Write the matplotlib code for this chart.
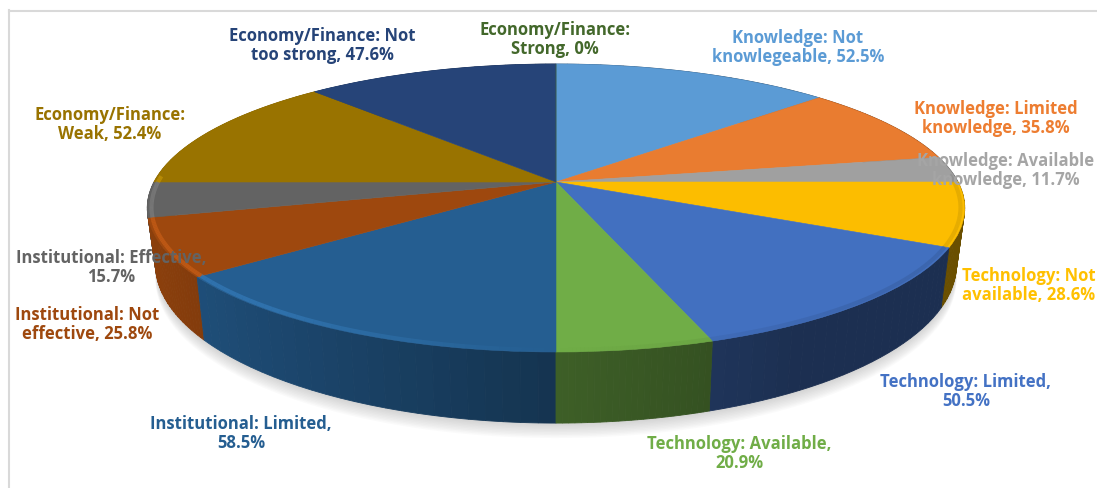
import matplotlib
matplotlib.use("Agg")
import matplotlib.pyplot as plt
import numpy as np
from matplotlib.transforms import Transform
from matplotlib.colors import to_rgb

# share of answers, each of the four groups sums to 100
values = [52.5, 35.8, 11.7, 28.6, 50.5, 20.9, 58.5, 25.8, 15.7, 52.4, 47.6, 0]
slice_colors = ["#5b9bd5", "#e97c30", "#a0a0a0", "#fcbd00", "#4270c0", "#70ad47",
                "#255e91", "#9e480e", "#636363", "#997300", "#264478", "#43682b"]
label_text = ["Knowledge: Not\nknowlegeable, 52.5%", "Knowledge: Limited\nknowledge, 35.8%",
              "Knowledge: Available\nknowledge, 11.7%", "Technology: Not\navailable, 28.6%",
              "Technology: Limited,\n50.5%", "Technology: Available,\n20.9%",
              "Institutional: Limited,\n58.5%", "Institutional: Not\neffective, 25.8%",
              "Institutional: Effective,\n15.7%", "Economy/Finance:\nWeak, 52.4%",
              "Economy/Finance: Not\ntoo strong, 47.6%", "Economy/Finance:\nStrong, 0%"]
label_colors = ["#5b9bd5", "#ed7d31", "#a5a5a5", "#ffc000", "#4472c4", "#70ad47",
                "#255e91", "#9e480e", "#636363", "#997300", "#264478", "#43682b"]
label_x = [798, 996, 1006, 1029, 966, 739, 241, 87, 111, 110, 322, 555]
label_y = [47.5, 118.5, 170.5, 285.5, 391.5, 453.5, 433.5, 324.5, 267.5, 124.5, 45.5, 39.5]

# perspective of the disc, in pixels of the picture
CX, CY = 556, 182
A, B, K = 402, 139.3, 0.1806
CY_LOW, B_LOW, S_LOW = 235.5, 153.7, 0.98


class Tilt(Transform):
    input_dims = 2
    output_dims = 2

    def transform_non_affine(self, xy):
        xy = np.asarray(xy, dtype=float)
        w = 1 + K * xy[:, 1]
        return np.column_stack([CX + A * xy[:, 0] / w, CY - B * xy[:, 1] / w])


def low_edge(th):
    u, v = np.cos(th), np.sin(th)
    w = 1 + K * v
    return CX + S_LOW * A * u / w, CY_LOW - B_LOW * v / w


def top_edge(th, r=1.0):
    u, v = r * np.cos(th), r * np.sin(th)
    w = 1 + K * v
    return CX + A * u / w, CY - B * v / w


def wall_shade(u):
    f = 0.55 - 0.35 * u if u < 0 else 0.55 - 0.25 * u
    return max(f, 0.42)


fig = plt.figure(figsize=(10.97, 4.88), dpi=100)
ax = fig.add_axes([0, 0, 1, 1])

wedges, _ = ax.pie(values, colors=slice_colors, startangle=90, counterclock=False,
                   radius=1, center=(0, 0))
ax.set_aspect("auto")
ax.set_xlim(0, 1097)
ax.set_ylim(488, 0)
ax.axis("off")

tilt = Tilt()

# page border
ax.plot([9, 9], [10, 488], color="#d9d9d9", lw=1.5, zorder=1)
ax.plot([9, 1097], [10.5, 10.5], color="#d9d9d9", lw=1.5, zorder=1)

# soft shadow under the disc
all_th = np.linspace(0, 2 * np.pi, 300)
sx, sy = low_edge(all_th)
for i in range(10, 0, -1):
    ax.fill(sx, sy + i * 1.5, color="#808080", alpha=0.035, lw=0, zorder=2)

# side walls, back ones first
order = sorted(range(len(values)),
               key=lambda i: -np.sin(np.radians((wedges[i].theta1 + wedges[i].theta2) / 2)))
z = 3.0
for i in order:
    t1, t2 = np.radians(wedges[i].theta1), np.radians(wedges[i].theta2)
    if t2 <= t1:
        continue
    base = np.array(to_rgb(slice_colors[i]))
    th = np.linspace(t1, t2, 26)
    for a, b in zip(th[:-1], th[1:]):
        mid = (a + b) / 2
        tt = np.linspace(a, b, 4)
        x1, y1 = top_edge(tt)
        x2, y2 = low_edge(tt[::-1])
        col = base * wall_shade(np.cos(mid))
        ax.fill(np.r_[x1, x2], np.r_[y1, y2], color=col, lw=0.6, zorder=z)
    z += 0.01

# top faces
for w in wedges:
    w.set_transform(tilt + ax.transData)
    w.set_linewidth(0.4)
    w.set_edgecolor(w.get_facecolor())
    w.set_zorder(5)

# rim of the top face, light on the left and dark on the right
for i, w in enumerate(wedges):
    t1, t2 = np.radians(w.theta1), np.radians(w.theta2)
    if t2 <= t1:
        continue
    base = np.array(to_rgb(slice_colors[i]))
    th = np.linspace(t1, t2, 40)
    for a, b in zip(th[:-1], th[1:]):
        mid = (a + b) / 2
        if np.sin(mid) > 0.05:
            continue
        u = np.cos(mid)
        if u < 0:
            col = np.clip(base * 1.3 + 0.03, 0, 1)
            alpha = min(1.0, -u * 1.6) * 0.55
        else:
            col = base * 0.72
            alpha = min(1.0, u * 1.5) * 0.3
        x, y = top_edge(np.array([a, b]), 0.99)
        ax.plot(x, y, color=col, lw=3, alpha=alpha, zorder=6, solid_capstyle="butt")

for txt, x, y, c in zip(label_text, label_x, label_y, label_colors):
    ax.text(x, y, txt, color=c, ha="center", va="center", fontsize=12,
            family="Open Sans", fontweight="bold", linespacing=1.08, zorder=10)

fig.savefig("out.png", dpi=100)
